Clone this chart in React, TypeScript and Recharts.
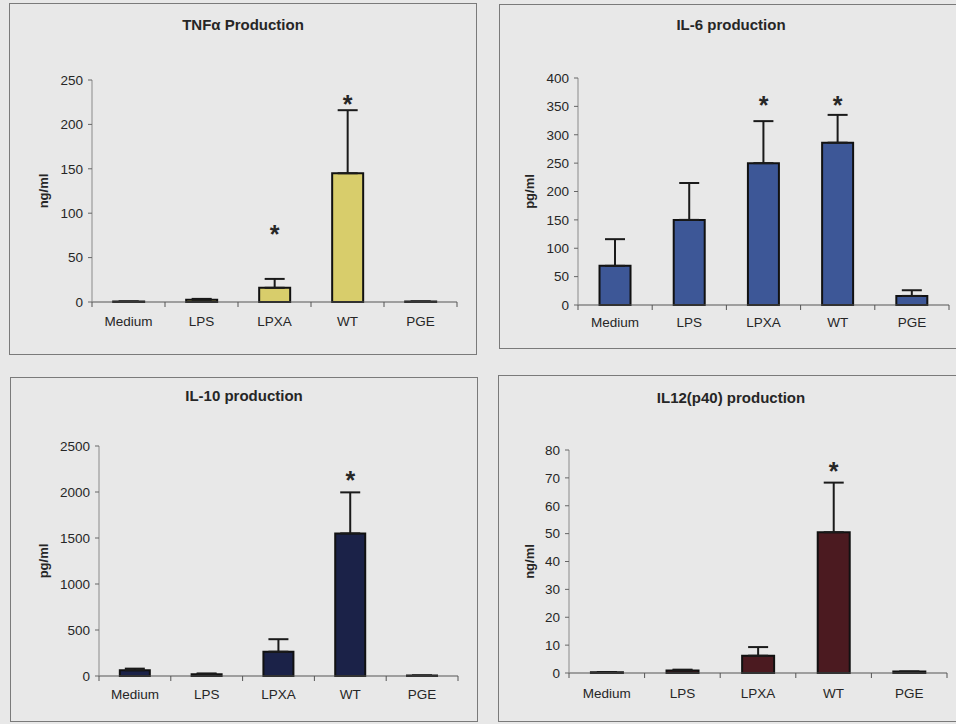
import React from 'react';
import { ComposedChart, Bar, XAxis, YAxis, ErrorBar, Line } from 'recharts';

const categories = ['Medium', 'LPS', 'LPXA', 'WT', 'PGE'];

const tnfMean = [0.5, 2.5, 16, 145, 0.5];
const tnfErr = [0, 1, 10, 71, 0];
const tnfStar = [null, null, 83, 229, null];
const tnfTicks = [0, 50, 100, 150, 200, 250];

const il6Mean = [69, 150, 250, 286, 16];
const il6Err = [47, 65, 74, 49, 10];
const il6Star = [null, null, 362, 362, null];
const il6Ticks = [0, 50, 100, 150, 200, 250, 300, 350, 400];

const il10Mean = [62, 20, 264, 1550, 5];
const il10Err = [18, 8, 136, 446, 0];
const il10Star = [null, null, null, 2190, null];
const il10Ticks = [0, 500, 1000, 1500, 2000, 2500];

const il12Mean = [0.3, 0.9, 6.2, 50.5, 0.5];
const il12Err = [0, 0.3, 3.1, 17.8, 0];
const il12Star = [null, null, null, 74.3, null];
const il12Ticks = [0, 10, 20, 30, 40, 50, 60, 70, 80];

const FONT = '"Liberation Sans", Arial, sans-serif';
const TEXT = '#262626';

function rows(mean: number[], err: number[], star: (number | null)[]) {
  return categories.map((c, i) => ({ cat: c, mean: mean[i], err: [0, err[i]], star: star[i] }));
}

const CatTick = (props: any) => {
  const { x, y, payload, gap } = props;
  const off = payload && payload.offset != null ? payload.offset : 0;
  const last = payload.value === categories[categories.length - 1];
  return (
    <g>
      <line x1={x - off} x2={x - off} y1={y} y2={y + 5} stroke="#555" strokeWidth={1} />
      {last && <line x1={x + off} x2={x + off} y1={y} y2={y + 5} stroke="#555" strokeWidth={1} />}
      <text x={x} y={y + gap} textAnchor="middle" fontSize={13.5} fontFamily={FONT} fill={TEXT}>
        {payload.value}
      </text>
    </g>
  );
};

const YLabel = (props: any) => {
  const { viewBox, text, lx } = props;
  const cx = viewBox.x + lx;
  const cy = viewBox.y + viewBox.height / 2;
  return (
    <text
      x={cx}
      y={cy}
      textAnchor="middle"
      dominantBaseline="central"
      transform={`rotate(-90 ${cx} ${cy})`}
      fontSize={13}
      fontWeight="bold"
      fontFamily={FONT}
      fill={TEXT}
    >
      {text}
    </text>
  );
};

const StarDot = (p: any) => {
  const { cx, cy, value, index } = p;
  if (value == null || cy == null || isNaN(cy)) return <g key={`s${index}`} />;
  return (
    <text key={`s${index}`} x={cx} y={cy} dy="0.57em" textAnchor="middle" fontSize={25} fontWeight="bold" fontFamily={FONT} fill={TEXT}>
      *
    </text>
  );
};

type PanelProps = {
  title: string;
  unit: string;
  data: any[];
  ticks: number[];
  color: string;
  box: { left: number; top: number; width: number; height: number };
  plot: { top: number; right: number; yW: number; xH: number };
  gap: number;
  lx: number;
  titleY: number;
};

function Panel({ title, unit, data, ticks, color, box, plot, gap, lx, titleY }: PanelProps) {
  const w = box.width - 2;
  const h = box.height - 2;
  return (
    <div
      style={{
        position: 'absolute',
        left: box.left,
        top: box.top,
        width: w,
        height: h,
        border: '1px solid #7a7a7a',
      }}
    >
      <div
        style={{
          position: 'absolute',
          left: 0,
          width: w,
          top: titleY - 9,
          lineHeight: '18px',
          textAlign: 'center',
          fontFamily: FONT,
          fontWeight: 'bold',
          fontSize: 15,
          color: TEXT,
        }}
      >
        {title}
      </div>
      <ComposedChart
        width={w}
        height={h}
        data={data}
        margin={{ top: plot.top, right: plot.right, left: 0, bottom: 0 }}
        barCategoryGap="29%"
        style={{ position: 'absolute', left: 0, top: 0 }}
      >
        <XAxis
          dataKey="cat"
          height={plot.xH}
          axisLine={{ stroke: '#555', strokeWidth: 1 }}
          tickLine={false}
          tickSize={0}
          tickMargin={0}
          interval={0}
          tick={<CatTick gap={gap} />}
        />
        <YAxis
          width={plot.yW}
          domain={[0, ticks[ticks.length - 1]]}
          ticks={ticks}
          interval={0}
          tickSize={4}
          tickMargin={5}
          axisLine={{ stroke: '#8a8a8a', strokeWidth: 1 }}
          tickLine={{ stroke: '#666', strokeWidth: 1 }}
          tick={{ fontSize: 13.5, fontFamily: FONT, fill: TEXT }}
          label={<YLabel text={unit} lx={lx} />}
        />
        <Bar dataKey="mean" fill={color} stroke="#111" strokeWidth={2} isAnimationActive={false}>
          <ErrorBar dataKey="err" width={10} stroke="#1a1a1a" strokeWidth={2} direction="y" />
        </Bar>
        <Line
          dataKey="star"
          stroke="none"
          dot={StarDot}
          activeDot={false}
          legendType="none"
          isAnimationActive={false}
        />
      </ComposedChart>
    </div>
  );
}

export default function App() {
  return (
    <div
      style={{
        position: 'absolute',
        left: 0,
        top: 0,
        width: 956,
        height: 724,
        overflow: 'hidden',
        background: '#e8e8e8',
      }}
    >
      <Panel
        title="TNFα Production"
        unit="ng/ml"
        data={rows(tnfMean, tnfErr, tnfStar)}
        ticks={tnfTicks}
        color="#d8cd6b"
        box={{ left: 9, top: 3, width: 468, height: 352 }}
        plot={{ top: 76, right: 19, yW: 82, xH: 52 }}
        gap={24}
        lx={33}
        titleY={21}
      />
      <Panel
        title="IL-6 production"
        unit="pg/ml"
        data={rows(il6Mean, il6Err, il6Star)}
        ticks={il6Ticks}
        color="#3d5797"
        box={{ left: 499, top: 4, width: 464, height: 345 }}
        plot={{ top: 73, right: 13, yW: 78, xH: 43 }}
        gap={22}
        lx={29}
        titleY={20}
      />
      <Panel
        title="IL-10 production"
        unit="pg/ml"
        data={rows(il10Mean, il10Err, il10Star)}
        ticks={il10Ticks}
        color="#1b2248"
        box={{ left: 10, top: 377, width: 468, height: 345 }}
        plot={{ top: 68, right: 19, yW: 88, xH: 45 }}
        gap={23}
        lx={32}
        titleY={18}
      />
      <Panel
        title="IL12(p40) production"
        unit="ng/ml"
        data={rows(il12Mean, il12Err, il12Star)}
        ticks={il12Ticks}
        color="#4b1a20"
        box={{ left: 498, top: 375, width: 466, height: 347 }}
        plot={{ top: 74, right: 16, yW: 70, xH: 48 }}
        gap={25}
        lx={30}
        titleY={22}
      />
    </div>
  );
}
